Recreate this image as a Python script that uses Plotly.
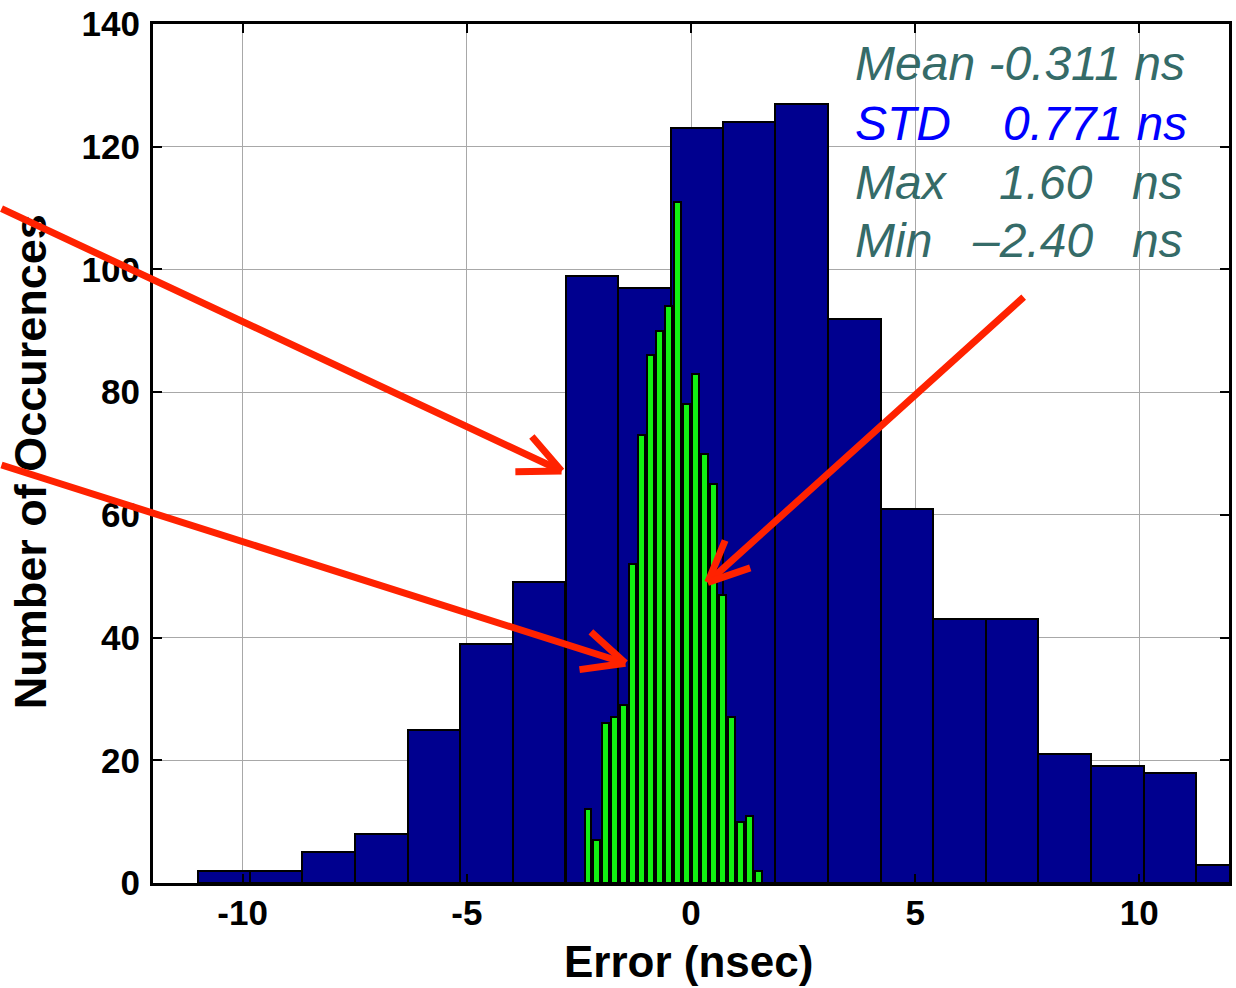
import plotly.graph_objects as go

# ---------------- data ----------------
blue_centers = [-10.42, -9.25, -8.08, -6.90, -5.73, -4.56, -3.39, -2.21, -1.04, 0.13,
                1.30, 2.47, 3.65, 4.82, 5.99, 7.16, 8.33, 9.51, 10.68, 11.85]
blue_counts = [2, 2, 5, 8, 25, 39, 49, 99, 97, 123, 124, 127, 92, 61, 43, 43, 21, 19, 18, 3]
blue_bin_width = 1.172

green_centers = [-2.3, -2.1, -1.9, -1.7, -1.5, -1.3, -1.1, -0.9, -0.7, -0.5,
                 -0.3, -0.1, 0.1, 0.3, 0.5, 0.7, 0.9, 1.1, 1.3, 1.5]
green_counts = [12, 7, 26, 27, 29, 52, 73, 86, 90, 94, 111, 78, 83, 70, 65, 47, 27, 10, 11, 2]

x_ticks = [-10, -5, 0, 5, 10]
x_tick_labels = ["-10", "-5", "0", "5", "10"]
y_ticks = [0, 20, 40, 60, 80, 100, 120, 140]

stats_lines = [
    ("Mean -0.311 ns", None, None),
    ("STD", "0.771 ns", None),
    ("Max", "1.60", "ns"),
    ("Min", "\u20132.40", "ns"),
]

# ---------------- figure ----------------
W, H = 1236, 988
ML, MR, MT, MB = 153, 4, 22, 105
PW, PH = W - ML - MR, H - MT - MB


def px(x):
    return (x - ML) / PW


def py(y):
    return (H - MB - y) / PH


fig = go.Figure()
fig.add_trace(go.Bar(
    x=blue_centers, y=blue_counts, width=blue_bin_width,
    marker=dict(color="#00008F", line=dict(color="black", width=2)),
))
fig.add_trace(go.Bar(
    x=green_centers, y=green_counts, width=0.15,
    marker=dict(color="#12F012", line=dict(color="black", width=2)),
))

tick_font = dict(family="Liberation Sans, Arial, sans-serif", size=35, color="black", weight="bold")
axis_common = dict(
    showline=True, linecolor="black", linewidth=3, mirror="ticks",
    ticks="inside", ticklen=9, tickwidth=2, tickcolor="black",
    showgrid=True, gridcolor="#A8A8A8", gridwidth=1,
    zeroline=False, tickfont=tick_font,
)
fig.update_xaxes(range=[-12, 12], tickvals=x_ticks, ticktext=x_tick_labels,
                 ticklabelstandoff=-3, **axis_common)
fig.update_yaxes(range=[0, 140], tickvals=y_ticks, ticklabelstandoff=3, **axis_common)

annotations = []
# axis titles
title_font = dict(family="Liberation Sans, Arial, sans-serif", size=44, color="black", weight="bold")
annotations.append(dict(text="Error (nsec)", xref="paper", yref="paper", x=px(690), y=py(962),
                        xanchor="center", yanchor="middle", showarrow=False, font=title_font))
annotations.append(dict(text="Number of Occurences", xref="paper", yref="paper", x=px(31), y=py(461),
                        xanchor="center", yanchor="middle", showarrow=False, textangle=-90,
                        font=dict(title_font, size=45)))

# stats text
teal = "#356B68"
stat_font_size = 48
baselines = [77, 137, 196, 254]
for (a, b, c), base, col in zip(stats_lines, baselines, [teal, "#0000FF", teal, teal]):
    f = dict(family="Liberation Sans, Arial, sans-serif", size=stat_font_size, color=col, style="italic")
    yc = py(base - 15)
    annotations.append(dict(text=a, xref="paper", yref="paper", x=px(855), y=yc,
                            xanchor="left", yanchor="middle", showarrow=False, font=f))
    if b is not None and c is None:
        annotations.append(dict(text=b, xref="paper", yref="paper", x=px(1192), y=yc,
                                xanchor="right", yanchor="middle", showarrow=False, font=f))
    elif b is not None:
        annotations.append(dict(text=b, xref="paper", yref="paper", x=px(1098), y=yc,
                                xanchor="right", yanchor="middle", showarrow=False, font=f))
        annotations.append(dict(text=c, xref="paper", yref="paper", x=px(1133), y=yc,
                                xanchor="left", yanchor="middle", showarrow=False, font=f))

# red arrows drawn as strokes (tail pixel, head pixel)
red = "#FF2200"
strokes = [
    ((-6, 207), (562.7, 470)), ((531.7, 434), (562.7, 470)), ((515, 470.7), (562.7, 470)),
    ((-6, 464), (626.7, 662.7)), ((590.7, 630), (626.7, 662.7)), ((579.3, 669.3), (626.7, 662.7)),
    ((1026.7, 295), (709.3, 581.7)), ((727.3, 538.3), (709.3, 581.7)), ((753.3, 566.7), (709.3, 581.7)),
]
for (tx, ty), (hx, hy) in strokes:
    annotations.append(dict(text="", xref="paper", yref="paper", x=px(hx), y=py(hy),
                            axref="pixel", ayref="pixel", ax=tx - hx, ay=ty - hy,
                            showarrow=True, arrowhead=0, arrowwidth=7, arrowcolor=red,
                            standoff=0, startstandoff=0))

fig.update_layout(
    width=W, height=H, margin=dict(l=ML, r=MR, t=MT, b=MB),
    plot_bgcolor="white", paper_bgcolor="white",
    barmode="overlay", bargap=0, showlegend=False,
    annotations=annotations,
)

fig.write_html("out.html")
